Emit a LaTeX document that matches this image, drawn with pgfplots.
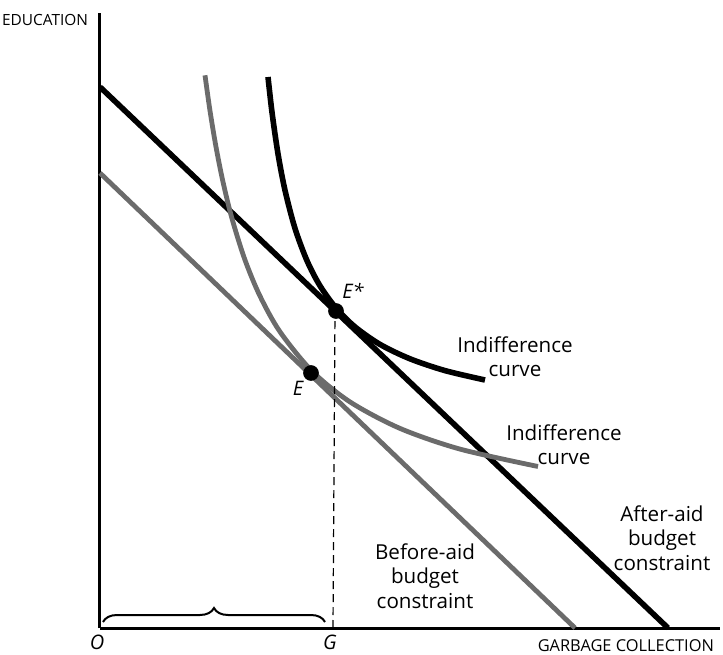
\documentclass[border=0pt]{standalone}
\usepackage{pgfplots}
\pgfplotsset{compat=1.18}
\usepackage{fontspec}
\setmainfont{Open Sans}
\usetikzlibrary{decorations.pathreplacing}
\definecolor{grayline}{gray}{0.42}
\begin{document}
\begin{tikzpicture}
\begin{axis}[
    x=0.5pt, y=0.5pt,
    xmin=0, xmax=620, ymin=0, ymax=615,
    axis lines=left,
    axis line style={-, line width=1.5pt},
    xtick=\empty, ytick=\empty,
    clip=false,
  ]
  % before-aid budget constraint
  \addplot[grayline, line width=2.4pt] coordinates {(0,455) (475,0)};
  % after-aid budget constraint
  \addplot[black, line width=2.8pt] coordinates {(0,541) (568,0)};
  % lower indifference curve
  \addplot[grayline, line width=2.4pt, smooth] coordinates {
    (105,552.7) (110,517.2) (116,481.1) (123,446.1) (132,409.4) (145,368)
    (160,331.9) (180,296.2) (212,256.9) (250,226.1) (300,199.6) (360,178.9)
    (438,161.5)};
  % upper indifference curve
  \addplot[black, line width=2.8pt, smooth] coordinates {
    (168,551.0) (172,515.7) (178,474.2) (185,437.7) (195,399.6) (207,367.3)
    (220,342.2) (236,320.0) (255,301.1) (280,283.6) (310,269.2) (345,257.4)
    (385,248.0)};
  % dashed drop line at G
  \addplot[black, line width=0.6pt, dash pattern=on 4pt off 2.5pt] coordinates {(233,0) (235,317)};
  % equilibrium points
  \addplot[only marks, mark=*, mark size=3.7pt, black] coordinates {(211,255) (236,317)};

  \draw[decorate, decoration={brace, amplitude=7pt}, line width=1pt]
    (axis cs:3,6) -- (axis cs:225,6);

  \node[anchor=east, font=\fontsize{7.7}{8}\selectfont] at (axis cs:-5,608) {EDUCATION};
  \node[anchor=east, font=\fontsize{8.2}{9}\selectfont] at (axis cs:621,-18) {GARBAGE COLLECTION};
  \node[font=\fontsize{10}{12}\selectfont\itshape] at (axis cs:-3,-14) {O};
  \node[font=\fontsize{10}{12}\selectfont\itshape] at (axis cs:230,-14) {G};
  \node[font=\fontsize{10}{12}\selectfont\itshape] at (axis cs:198,240) {E};
  \node[font=\fontsize{10}{12}\selectfont\itshape] at (axis cs:253,337) {E*};
  \node[align=center, font=\fontsize{10.3}{12.2}\selectfont] at (axis cs:415,271) {Indifference\\curve};
  \node[align=center, font=\fontsize{10.3}{12.2}\selectfont] at (axis cs:464,183) {Indifference\\curve};
  \node[align=center, font=\fontsize{10.3}{12.2}\selectfont] at (axis cs:562,90) {After-aid\\budget\\constraint};
  \node[align=center, font=\fontsize{10.3}{12.2}\selectfont] at (axis cs:325,52) {Before-aid\\budget\\constraint};

  \coordinate (bbl) at (axis cs:-100,-26);
  \coordinate (btr) at (axis cs:623,628);
\end{axis}
\pgfresetboundingbox
\path[use as bounding box] (bbl) rectangle (btr);
\end{tikzpicture}
\end{document}
